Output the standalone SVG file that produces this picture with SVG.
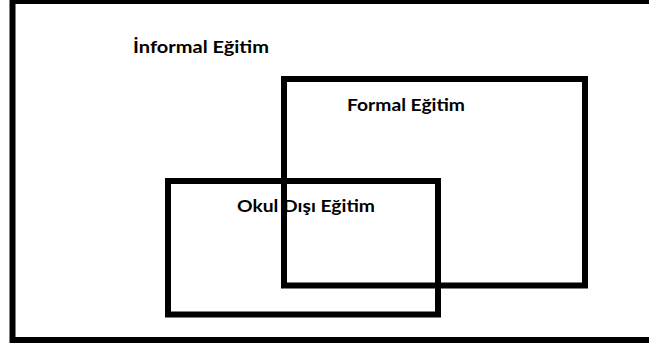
<svg xmlns="http://www.w3.org/2000/svg" width="649" height="347" viewBox="0 0 649 347">
<style>
.box{fill:none;stroke:#000;stroke-width:6}
.lbl{font-family:Lato,"Open Sans","Liberation Sans",sans-serif;font-weight:bold;font-size:17px;fill:#000}
</style>
<rect width="649" height="347" fill="#fff"/>
<g id="informal">
<rect class="box" x="12.5" y="1" width="700" height="339"/>
<text class="lbl" x="133" y="52.5" textLength="136" lengthAdjust="spacingAndGlyphs">İnformal Eğitim</text>
</g>
<g id="formal">
<rect class="box" x="284" y="79" width="301" height="206.5"/>
<text class="lbl" x="347" y="111" textLength="118" lengthAdjust="spacingAndGlyphs">Formal Eğitim</text>
</g>
<g id="okul-disi">
<rect class="box" x="168" y="181" width="270" height="133.5"/>
<text class="lbl" x="237" y="212" textLength="138" lengthAdjust="spacingAndGlyphs">Okul Dışı Eğitim</text>
</g>
<g id="connectors"/>
</svg>
